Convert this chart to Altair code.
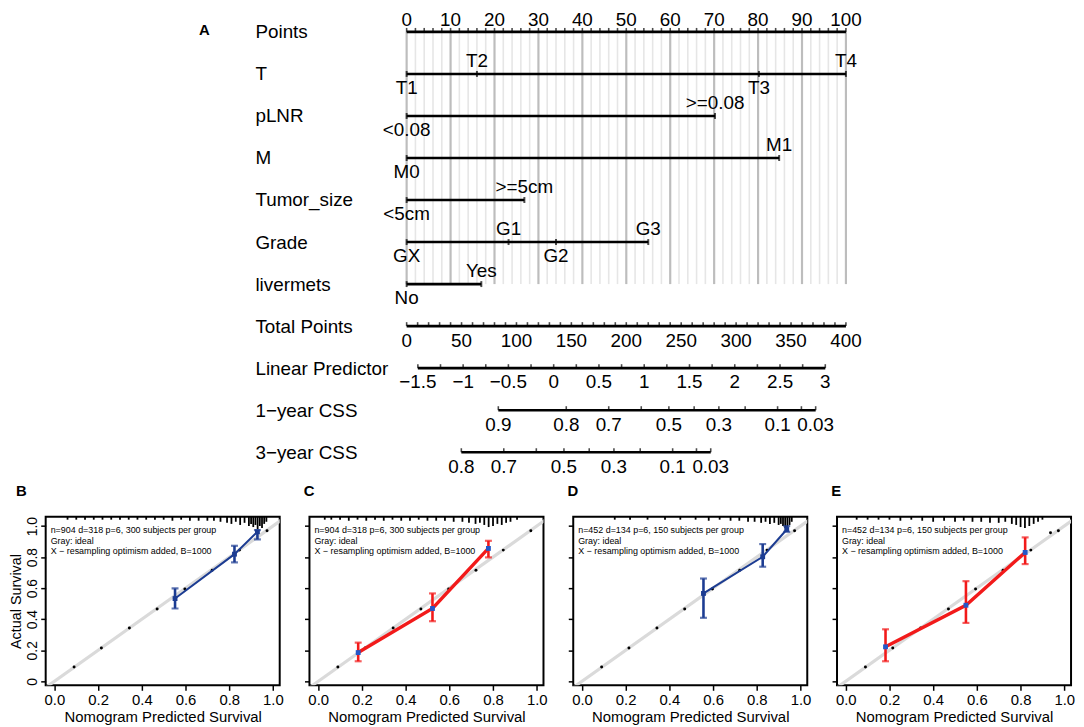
import json
import altair as alt
import pandas as pd

FONT = "Liberation Sans"

# ------------------------------------------------------------------ nomogram data
row_names = ["Points", "T", "pLNR", "M", "Tumor_size", "Grade", "livermets",
             "Total Points", "Linear Predictor", "1\u2212year CSS", "3\u2212year CSS"]

points_ticks = list(range(0, 101, 2))
points_labels = list(range(0, 101, 10))

var_row = [1, 1, 1, 1, 2, 2, 3, 3, 4, 4, 5, 5, 5, 5, 6, 6]
var_level = ["T1", "T2", "T3", "T4", "<0.08", ">=0.08", "M0", "M1", "<5cm", ">=5cm",
             "GX", "G1", "G2", "G3", "No", "Yes"]
var_points = [0, 16, 80.2, 100, 0, 70.2, 0, 84.8, 0, 26.8, 0, 23.2, 34, 55, 0, 17]
var_side = ["below", "above", "below", "above", "below", "above", "below", "above",
            "below", "above", "below", "above", "below", "above", "below", "above"]

total_ticks = list(range(0, 401, 10))
total_labels = list(range(0, 401, 50))

lp_ticks = [-1.5, -1.25, -1, -0.75, -0.5, -0.25, 0, 0.25, 0.5, 0.75, 1, 1.25, 1.5,
            1.75, 2, 2.25, 2.5, 2.75, 3]
lp_label_values = [-1.5, -1, -0.5, 0, 0.5, 1, 1.5, 2, 2.5, 3]
lp_label_text = ["\u22121.5", "\u22121", "\u22120.5", "0", "0.5", "1", "1.5", "2", "2.5", "3"]

css1_ticks = [0.9, 0.8, 0.7, 0.6, 0.5, 0.4, 0.3, 0.2, 0.1, 0.05, 0.03]
css1_label_values = [0.9, 0.8, 0.7, 0.5, 0.3, 0.1, 0.03]
css1_label_text = ["0.9", "0.8", "0.7", "0.5", "0.3", "0.1", "0.03"]

css3_ticks = [0.8, 0.7, 0.6, 0.5, 0.4, 0.3, 0.2, 0.1, 0.05, 0.03]
css3_label_values = [0.8, 0.7, 0.5, 0.3, 0.1, 0.03]
css3_label_text = ["0.8", "0.7", "0.5", "0.3", "0.1", "0.03"]

# scale calibration of each nomogram axis against the 0-100 points axis
PTS_DOMAIN = [0, 100]
TOTAL_DOMAIN = [0, 400]
LP_DOMAIN = [-1.624, 3.228]
CSS1_DOMAIN = [-3.263, 1.589]   # in log(-log S)
CSS3_DOMAIN = [-2.104, 2.748]   # in log(-log S)

# ------------------------------------------------------------------ calibration data
dots_x = [0.09, 0.215, 0.343, 0.47, 0.597, 0.722, 0.847, 0.973]
dots_y = [0.092, 0.215, 0.344, 0.465, 0.594, 0.716, 0.845, 0.970]
dotsE_x = [0.09, 0.215, 0.343, 0.47, 0.594, 0.72, 0.847, 0.937, 0.973]
dotsE_y = [0.092, 0.215, 0.344, 0.465, 0.594, 0.716, 0.845, 0.957, 0.970]

B_pred = [0.552, 0.824, 0.929]; B_obs = [0.533, 0.819, 0.963]
B_lo = [0.469, 0.766, 0.914];   B_hi = [0.598, 0.873, 0.974]
C_pred = [0.183, 0.523, 0.779]; C_obs = [0.185, 0.469, 0.856]
C_lo = [0.129, 0.387, 0.798];   C_hi = [0.249, 0.566, 0.905]
D_pred = [0.556, 0.827, 0.937]; D_obs = [0.566, 0.802, 0.978]
D_lo = [0.409, 0.738, 0.963];   D_hi = [0.662, 0.884, 1.0]
E_pred = [0.182, 0.550, 0.821]; E_obs = [0.222, 0.490, 0.830]
E_lo = [0.129, 0.376, 0.755];   E_hi = [0.335, 0.645, 0.927]

B_rug_x = [0.06, 0.10, 0.14, 0.18, 0.22, 0.26, 0.30, 0.34, 0.38, 0.42, 0.46, 0.50, 0.54,
           0.58, 0.62, 0.66, 0.70, 0.73, 0.76, 0.79, 0.81, 0.83, 0.85, 0.87, 0.89, 0.90,
           0.91, 0.92, 0.93, 0.94, 0.95, 0.96, 0.97]
B_rug_n = [1, 1, 1, 1, 1, 1, 1, 1, 1, 1, 1, 1, 2, 1, 2, 2, 2, 2, 3, 4, 5, 3, 6, 4, 7, 5,
           8, 6, 10, 7, 9, 5, 3]
C_rug_x = [0.03, 0.06, 0.10, 0.14, 0.18, 0.22, 0.26, 0.30, 0.34, 0.38, 0.42, 0.46, 0.50,
           0.54, 0.58, 0.62, 0.66, 0.69, 0.72, 0.74, 0.76, 0.78, 0.80, 0.82, 0.84, 0.86,
           0.88, 0.91]
C_rug_n = [1, 1, 1, 2, 1, 2, 1, 2, 1, 2, 2, 1, 2, 2, 2, 3, 3, 4, 5, 4, 6, 8, 7, 5, 6, 4,
           3, 1]
D_rug_x = [0.15, 0.22, 0.30, 0.38, 0.45, 0.52, 0.58, 0.63, 0.68, 0.72, 0.76, 0.79, 0.82,
           0.84, 0.86, 0.88, 0.90, 0.91, 0.92, 0.93, 0.94, 0.95, 0.96]
D_rug_n = [1, 1, 1, 1, 1, 1, 2, 1, 2, 2, 3, 3, 4, 3, 5, 4, 6, 5, 7, 9, 8, 6, 3]
E_rug_x = [0.05, 0.10, 0.15, 0.20, 0.25, 0.30, 0.35, 0.40, 0.45, 0.50, 0.54, 0.58, 0.62,
           0.66, 0.70, 0.73, 0.76, 0.78, 0.80, 0.82, 0.84, 0.86, 0.88, 0.90]
E_rug_n = [1, 1, 1, 1, 2, 1, 2, 3, 2, 3, 2, 3, 3, 4, 4, 3, 5, 6, 8, 9, 7, 5, 3, 1]

text_train = ["n=904 d=318 p=6, 300 subjects per group", "Gray: ideal",
              "X \u2212 resampling optimism added, B=1000"]
text_valid = ["n=452 d=134 p=6, 150  subjects per group", "Gray: ideal",
              "X \u2212 resampling optimism added, B=1000"]

ideal_x = [-0.1, 1.1]
axis_values = [0, 0.2, 0.4, 0.6, 0.8, 1.0]

# ------------------------------------------------------------------ nomogram chart
ROW = {n: i for i, n in enumerate(row_names)}
ROW_SPACING = 42.4
Y_DOM = [-0.45, 10.45]
NOMO_H = round((Y_DOM[1] - Y_DOM[0]) * ROW_SPACING)
NOMO_W = 443
FS = 19

NOMO_Y_SCALE = alt.Scale(domain=Y_DOM, reverse=True, nice=False, zero=False)
NOMO_Y_AXIS = alt.Axis(
    values=list(range(len(row_names))),
    labelExpr=json.dumps(row_names, ensure_ascii=False) + "[datum.value]",
    labelAlign="left", labelBaseline="middle", labelPadding=153, labelFontSize=FS,
    labelColor="black", ticks=False, domain=False, grid=False, labelOverlap=False,
    labelFlush=False, title="A", titleAngle=0, titleX=-210, titleY=17,
    titleAlign="left", titleBaseline="middle", titleFontSize=15,
    titleFontWeight="bold", titleColor="black",
)


def yrow(field=None, datum=None):
    if field is not None:
        return alt.Y(field, type="quantitative", scale=NOMO_Y_SCALE, axis=NOMO_Y_AXIS)
    return alt.YDatum(datum, type="quantitative", scale=NOMO_Y_SCALE, axis=NOMO_Y_AXIS)


def xsc(field, domain):
    return alt.X(field, type="quantitative",
                 scale=alt.Scale(domain=domain, nice=False, zero=False), axis=None)


LINE_W = 2.6
TXT = dict(fontSize=FS, color="black")

df_grid = pd.DataFrame({"p": points_ticks})
df_grid["major"] = df_grid["p"] % 10 == 0
df_plab = pd.DataFrame({"p": points_labels})
df_var = pd.DataFrame({"row": var_row, "level": var_level, "p": var_points, "side": var_side})

grid_minor = alt.Chart(df_grid).transform_filter("!datum.major").mark_rule(
    color="#E6E6E6", strokeWidth=1.6).encode(
    x=xsc("p", PTS_DOMAIN), y=yrow(datum=ROW["Points"]), y2=alt.Y2Datum(ROW["livermets"]))
grid_major = alt.Chart(df_grid).transform_filter("datum.major").mark_rule(
    color="#BDBDBD", strokeWidth=2.2).encode(
    x=xsc("p", PTS_DOMAIN), y=yrow(datum=ROW["Points"]), y2=alt.Y2Datum(ROW["livermets"]))
pts_line = alt.Chart(df_grid).mark_rule(color="black", strokeWidth=LINE_W).encode(
    x=xsc("min(p)", PTS_DOMAIN), x2=alt.X2("max(p)"), y=yrow(datum=ROW["Points"]))
pts_ticks = alt.Chart(df_grid).mark_tick(
    orient="vertical", size=4, thickness=1.6, color="black", yOffset=-2).encode(
    x=xsc("p", PTS_DOMAIN), y=yrow(datum=ROW["Points"]))
pts_text = alt.Chart(df_plab).mark_text(dy=-12, **TXT).encode(
    x=xsc("p", PTS_DOMAIN), y=yrow(datum=ROW["Points"]), text=alt.Text("p:Q", format="d"))
var_line = alt.Chart(df_var).mark_rule(color="black", strokeWidth=LINE_W).encode(
    x=xsc("min(p)", PTS_DOMAIN), x2=alt.X2("max(p)"), y=yrow("row"))
var_ticks = alt.Chart(df_var).mark_tick(
    orient="vertical", size=6, thickness=2, color="black").encode(
    x=xsc("p", PTS_DOMAIN), y=yrow("row"))
var_above = alt.Chart(df_var).transform_filter("datum.side == 'above'").mark_text(
    dy=-13, **TXT).encode(x=xsc("p", PTS_DOMAIN), y=yrow("row"), text="level:N")
var_below = alt.Chart(df_var).transform_filter("datum.side == 'below'").mark_text(
    dy=14, **TXT).encode(x=xsc("p", PTS_DOMAIN), y=yrow("row"), text="level:N")

g_points = alt.layer(grid_minor, grid_major, pts_line, pts_ticks, pts_text,
                     var_line, var_ticks, var_above, var_below)


def scale_group(ticks, label_values, label_text, domain, row, dy_lab, transform=None):
    dt = pd.DataFrame({"v": ticks})
    dl = pd.DataFrame({"v": label_values, "t": label_text})
    field = "v"
    base_t = alt.Chart(dt)
    base_l = alt.Chart(dl)
    if transform is not None:
        base_t = base_t.transform_calculate(z=transform)
        base_l = base_l.transform_calculate(z=transform)
        field = "z"
    line = base_t.mark_rule(color="black", strokeWidth=LINE_W).encode(
        x=xsc(f"min({field})", domain), x2=alt.X2(f"max({field})"), y=yrow(datum=row))
    tk = base_t.mark_tick(orient="vertical", size=4, thickness=1.6, color="black",
                          yOffset=-2).encode(x=xsc(field, domain), y=yrow(datum=row))
    lab = base_l.mark_text(dy=dy_lab, **TXT).encode(
        x=xsc(field, domain), y=yrow(datum=row), text="t:N")
    return alt.layer(line, tk, lab)


g_total = scale_group(total_ticks, total_labels, [str(v) for v in total_labels],
                      TOTAL_DOMAIN, ROW["Total Points"], 15)
g_lp = scale_group(lp_ticks, lp_label_values, lp_label_text, LP_DOMAIN,
                   ROW["Linear Predictor"], 14)
g_c1 = scale_group(css1_ticks, css1_label_values, css1_label_text, CSS1_DOMAIN,
                   ROW["1\u2212year CSS"], 15, "log(-log(datum.v))")
g_c3 = scale_group(css3_ticks, css3_label_values, css3_label_text, CSS3_DOMAIN,
                   ROW["3\u2212year CSS"], 15, "log(-log(datum.v))")

nomogram = alt.layer(g_points, g_total, g_lp, g_c1, g_c3).resolve_scale(
    x="independent").properties(width=NOMO_W, height=NOMO_H)

spacer = alt.Chart(pd.DataFrame({"v": [0]})).mark_point(opacity=0, size=1).encode(
    x=alt.value(5), y=alt.value(5)).properties(width=154, height=10)

top = alt.hconcat(spacer, nomogram, spacing=0)

# ------------------------------------------------------------------ calibration panels
X_DOM = [-0.04, 1.031]
Y_DOM_C = [-0.026, 1.06]
PW, PH = 236, 170


def panel(letter, pred, obs, lo, hi, rug_x, rug_n, dx, dy, lines, line_color,
          marker_color, line_w, show_y):
    xs = alt.Scale(domain=X_DOM, nice=False, zero=False)
    ys = alt.Scale(domain=Y_DOM_C, nice=False, zero=False)
    xax = alt.Axis(values=axis_values, format=".1f", labelFontSize=15, labelColor="black",
                   tickSize=5, tickWidth=1.5, tickColor="black", domain=False, grid=False,
                   labelFlush=False, labelPadding=2, title="Nomogram Predicted Survival",
                   titleFontSize=15, titleFontWeight="normal", titleColor="black",
                   titlePadding=2)
    if show_y:
        yax = alt.Axis(values=axis_values,
                       labelExpr="datum.value == 0 ? '0' : format(datum.value, '.1f')",
                       labelAngle=270, labelFontSize=14, labelColor="black", tickSize=5,
                       tickWidth=1.5, tickColor="black", domain=False, grid=False,
                       labelFlush=False, labelPadding=1, title="Actual Survival",
                       titleFontSize=14.5, titleFontWeight="normal", titleColor="black",
                       titlePadding=2)
    else:
        yax = alt.Axis(values=axis_values, labels=False, tickSize=5, tickWidth=1.5,
                       tickColor="black", domain=False, grid=False, title="")

    def X(f):
        return alt.X(f, type="quantitative", scale=xs, axis=xax)

    def Y(f):
        return alt.Y(f, type="quantitative", scale=ys, axis=yax)

    ideal = alt.Chart(pd.DataFrame({"v": ideal_x})).mark_line(
        color="#DADADA", strokeWidth=3.2, clip=True).encode(x=X("v"), y=Y("v"))
    rug = alt.Chart(pd.DataFrame({"x": rug_x, "n": rug_n})).transform_calculate(
        top=str(Y_DOM_C[1]), bot=f"{Y_DOM_C[1]} - 0.012 - datum.n * 0.0068").mark_rule(
        color="black", strokeWidth=1.8).encode(x=X("x"), y=Y("top"), y2="bot:Q")
    dots = alt.Chart(pd.DataFrame({"x": dx, "y": dy})).mark_circle(
        color="black", size=9, opacity=1).encode(x=X("x"), y=Y("y"))
    dfc = pd.DataFrame({"pred": pred, "obs": obs, "lo": lo, "hi": hi})
    cal_line = alt.Chart(dfc).mark_line(color=line_color, strokeWidth=line_w).encode(
        x=X("pred"), y=Y("obs"))
    bars = alt.Chart(dfc).mark_rule(color=line_color, strokeWidth=2.6).encode(
        x=X("pred"), y=Y("lo"), y2="hi:Q")
    cap_lo = alt.Chart(dfc).mark_tick(orient="horizontal", size=7, thickness=2.2,
                                      color=line_color).encode(x=X("pred"), y=Y("lo"))
    cap_hi = alt.Chart(dfc).mark_tick(orient="horizontal", size=7, thickness=2.2,
                                      color=line_color).encode(x=X("pred"), y=Y("hi"))
    marks = alt.Chart(dfc).mark_square(color=marker_color, size=24, opacity=1).encode(
        x=X("pred"), y=Y("obs"))
    note = alt.Chart(pd.DataFrame({"t": ["\n".join(lines)]})).mark_text(
        align="left", baseline="top", fontSize=9, lineHeight=10.5, lineBreak="\n",
        color="black").encode(x=alt.value(5), y=alt.value(9.5), text="t:N")
    return alt.layer(ideal, rug, dots, cal_line, bars, cap_lo, cap_hi, marks, note).properties(
        width=PW, height=PH,
        title=alt.TitleParams(letter, anchor="start", fontSize=15, fontWeight="bold",
                              color="black", offset=17, dx=7 if show_y else 0),
        view=alt.ViewBackground(stroke="black", strokeWidth=2),
    )


NAVY = "#1C3C92"
RED = "#F21A1A"
BLUE = "#2457C8"

pB = panel("B", B_pred, B_obs, B_lo, B_hi, B_rug_x, B_rug_n, dots_x, dots_y, text_train,
           NAVY, NAVY, 2, True)
pC = panel("C", C_pred, C_obs, C_lo, C_hi, C_rug_x, C_rug_n, dots_x, dots_y, text_train,
           RED, BLUE, 3.4, False)
pD = panel("D", D_pred, D_obs, D_lo, D_hi, D_rug_x, D_rug_n, dots_x, dots_y, text_valid,
           NAVY, NAVY, 2, False)
pE = panel("E", E_pred, E_obs, E_lo, E_hi, E_rug_x, E_rug_n, dotsE_x, dotsE_y, text_valid,
           RED, BLUE, 3.4, False)

bottom = alt.hconcat(pB, pC, pD, pE, spacing=18)

chart = alt.vconcat(top, bottom, spacing=6).properties(
    padding=0, background="white").configure(font=FONT).configure_view(stroke=None)

chart.save("out.html", embed_options={"renderer": "svg", "actions": False})
